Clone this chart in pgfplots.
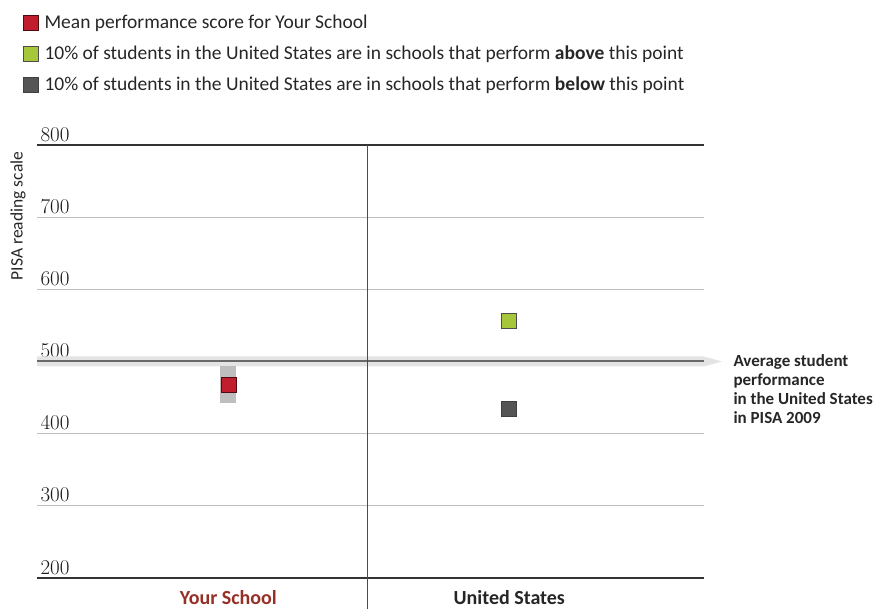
\documentclass[border=0pt]{standalone}
\usepackage{fontspec}
\newfontfamily\sansf{Carlito}
\usepackage{pgfplots}
\pgfplotsset{compat=1.18}

\definecolor{schoolred}{RGB}{193,30,45}
\definecolor{topgreen}{RGB}{166,199,57}
\definecolor{lowgray}{RGB}{85,85,85}
\definecolor{labelred}{RGB}{150,48,38}
\definecolor{bandgray}{RGB}{228,228,228}
\definecolor{avgline}{RGB}{105,105,105}
\definecolor{ciband}{RGB}{190,190,190}

\begin{document}
\begin{tikzpicture}
\path[use as bounding box] (0,0) rectangle (874pt,609pt);
\begin{axis}[
  at={(37pt,31pt)}, anchor=south west,
  width=667pt, height=433pt, scale only axis,
  xmin=0, xmax=1, ymin=200, ymax=800,
  ytick={200,300,...,800},
  xtick={0.287,0.708},
  xticklabels={\textcolor{labelred}{Your School}, United States},
  xticklabel style={font=\sansf\bfseries\fontsize{20}{20}\selectfont, text=black!85, yshift=-9pt},
  yticklabel style={anchor=south west, font=\rmfamily\fontsize{21}{21}\selectfont, text=black!90},
  /pgf/number format/assume math mode=true,
  tick style={draw=none},
  separate axis lines,
  x axis line style={draw=black!80, line width=1.2pt},
  y axis line style={draw=none},
  ymajorgrids,
  grid style={draw=black!25, line width=1pt},
  ylabel={PISA reading scale},
  ylabel style={at={(axis description cs:-0.0285,0.836)}, anchor=center,
    font=\sansf\fontsize{17.5}{17.5}\selectfont, text=black!85},
  clip=false,
  legend cell align=left,
  legend style={at={(axis description cs:-0.025,1.31)}, anchor=north west,
    draw=none, fill=none, row sep=12pt, column sep=4pt,
    font=\sansf\fontsize{19.5}{22}\selectfont, text=black!85},
]

% average band with arrow
\fill[bandgray] ([yshift=5pt]axis cs:0,500) -- ([yshift=5pt]axis cs:1,500)
  -- ([xshift=18pt]axis cs:1,500) -- ([yshift=-5pt]axis cs:1,500)
  -- ([yshift=-5pt]axis cs:0,500) -- cycle;
\addplot[avgline, line width=2pt, forget plot] coordinates {(0,500) (1,500)};

% divider
\draw[black!70, line width=1.1pt] (axis cs:0.495,800) -- (axis cs:0.495,200) -- ++(0,-31pt);

% your school mean with band
\addplot[only marks, mark=square*, mark size=7.5pt,
  mark options={fill=schoolred, draw=black!60!schoolred, line width=0.8pt},
  error bars/.cd, y dir=both, y explicit,
  error bar style={line width=16pt, ciband}, error mark=none]
  coordinates {(0.287,468) +- (0,26)};
\addlegendentry{Mean performance score for Your School}

\addplot[only marks, mark=square*, mark size=7.5pt,
  mark options={fill=topgreen, draw=black!70, line width=0.8pt}]
  coordinates {(0.708,556)};
\addlegendentry{10\% of students in the United States are in schools that perform \textbf{above} this point}

\addplot[only marks, mark=square*, mark size=7.5pt,
  mark options={fill=lowgray, draw=black!75, line width=0.8pt}]
  coordinates {(0.708,434)};
\addlegendentry{10\% of students in the United States are in schools that perform \textbf{below} this point}

\node[anchor=north west, align=left, font=\sansf\bfseries\fontsize{17}{19}\selectfont, text=black!85]
  at ([xshift=26pt,yshift=10pt]axis cs:1,500)
  {Average student\\performance\\in the United States\\in PISA 2009};
\end{axis}
\end{tikzpicture}
\end{document}
